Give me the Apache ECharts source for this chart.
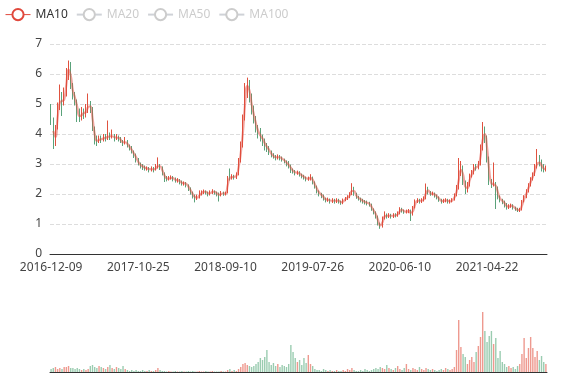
<!DOCTYPE html>
<html>
<head>
<meta charset="utf-8">
<script src="https://cdn.jsdelivr.net/npm/echarts@6/dist/echarts.min.js"></script>
<style>html,body{margin:0;padding:0;background:#fff}#chart{width:577px;height:380px}</style>
</head>
<body>
<div id="chart"></div>
<script>
// Tick labels shown on the date axis (one every 40 periods)
const tickDates = ['2016-12-09', '2017-10-25', '2018-09-10', '2019-07-26', '2020-06-10', '2021-04-22'];
const legendNames = ['MA10', 'MA20', 'MA50', 'MA100'];

// Weekly-ish candles: [open, close, lowest, highest]
const ohlc = [
  [4.80,4.60,4.30,5.00],[4.50,3.60,3.50,4.55],[3.65,4.20,3.60,4.30],[4.20,4.90,4.15,5.05],[4.90,5.20,4.80,5.65],
  [5.20,5.00,4.60,5.40],[5.00,5.30,4.95,5.55],[5.30,6.00,5.25,6.20],[6.05,6.30,5.80,6.45],[6.30,5.60,5.50,6.40],
  [5.60,5.30,5.15,5.70],[5.30,5.10,4.95,5.40],[5.10,4.70,4.40,5.15],[4.70,4.50,4.40,4.85],[4.50,4.75,4.45,4.90],
  [4.75,4.65,4.50,4.85],[4.65,4.80,4.55,5.00],[4.80,5.00,4.70,5.35],[5.00,4.85,4.70,5.10],[4.85,4.20,4.10,4.90],
  [4.20,3.80,3.65,4.25],[3.80,3.75,3.60,3.95],[3.75,3.85,3.70,3.95],[3.85,3.80,3.70,3.95],[3.80,3.90,3.75,4.00],
  [3.90,3.85,3.75,4.00],[3.85,3.95,3.80,4.45],[3.95,3.90,3.80,4.05],[3.90,3.95,3.85,4.15],[3.95,3.85,3.75,4.00],
  [3.85,3.90,3.80,4.00],[3.90,3.85,3.75,3.95],[3.85,3.75,3.70,3.90],[3.75,3.70,3.60,3.80],[3.70,3.75,3.65,3.90],
  [3.75,3.60,3.55,3.80],[3.60,3.55,3.45,3.65],[3.55,3.40,3.35,3.60],[3.40,3.30,3.20,3.45],[3.30,3.15,3.05,3.35],
  [3.15,3.00,2.95,3.20],[3.00,2.95,2.85,3.05],[2.95,2.90,2.80,3.00],[2.90,2.85,2.78,2.95],[2.83,2.86,2.78,2.92],
  [2.86,2.80,2.72,2.90],[2.80,2.85,2.75,2.92],[2.85,2.80,2.72,2.90],[2.80,2.90,2.78,3.00],[2.90,2.95,2.85,3.22],
  [2.95,2.90,2.80,3.00],[2.90,2.70,2.62,2.92],[2.70,2.55,2.40,2.72],[2.55,2.50,2.42,2.60],[2.50,2.52,2.45,2.60],
  [2.52,2.56,2.48,2.62],[2.56,2.50,2.42,2.60],[2.50,2.45,2.38,2.55],[2.45,2.47,2.38,2.53],[2.47,2.40,2.32,2.50],
  [2.40,2.35,2.28,2.45],[2.35,2.37,2.28,2.42],[2.37,2.30,2.22,2.40],[2.30,2.20,2.10,2.32],[2.20,2.05,1.98,2.22],
  [2.05,1.95,1.85,2.08],[1.95,1.85,1.72,1.98],[1.85,1.90,1.80,1.98],[1.90,2.00,1.85,2.12],[2.00,2.05,1.95,2.12],
  [2.05,2.10,2.00,2.15],[2.10,2.05,1.98,2.12],[2.05,2.00,1.92,2.08],[2.00,2.05,1.95,2.12],[2.05,2.10,2.00,2.16],
  [2.10,2.05,1.98,2.12],[2.05,2.00,1.92,2.08],[2.00,1.95,1.75,2.05],[1.95,2.05,1.92,2.10],[2.05,2.00,1.94,2.08],
  [2.00,2.02,1.95,2.08],[2.05,2.55,2.02,2.60],[2.55,2.52,2.45,2.85],[2.52,2.60,2.48,2.66],[2.60,2.55,2.48,2.64],
  [2.55,2.65,2.50,2.72],[2.65,3.10,2.62,3.20],[3.10,3.60,3.05,3.75],[3.60,4.50,3.55,4.65],[4.50,5.50,4.45,5.70],
  [5.50,5.70,5.20,5.88],[5.70,5.20,5.05,5.80],[5.20,4.80,4.65,5.35],[4.80,4.50,4.35,4.95],[4.50,4.20,4.05,4.60],
  [4.20,4.00,3.85,4.30],[4.00,3.90,3.75,4.20],[3.90,3.80,3.60,3.98],[3.80,3.60,3.45,3.85],[3.60,3.55,3.40,3.70],
  [3.55,3.40,3.30,3.60],[3.40,3.30,3.22,3.45],[3.30,3.25,3.18,3.36],[3.25,3.20,3.12,3.30],[3.20,3.25,3.15,3.32],
  [3.25,3.20,3.12,3.30],[3.20,3.15,3.08,3.25],[3.15,3.10,3.02,3.18],[3.10,3.00,2.92,3.12],[3.00,2.95,2.85,3.10],
  [2.95,2.80,2.70,2.98],[2.80,2.75,2.68,2.85],[2.75,2.70,2.62,2.80],[2.70,2.72,2.64,2.78],[2.72,2.65,2.58,2.76],
  [2.65,2.60,2.52,2.68],[2.60,2.55,2.48,2.64],[2.55,2.50,2.42,2.58],[2.50,2.52,2.44,2.58],[2.52,2.55,2.45,2.66],
  [2.55,2.40,2.32,2.58],[2.40,2.25,2.18,2.42],[2.25,2.10,2.02,2.28],[2.10,2.00,1.92,2.12],[2.00,1.95,1.86,2.04],
  [1.95,1.85,1.78,1.98],[1.85,1.80,1.72,1.88],[1.80,1.82,1.74,1.88],[1.82,1.75,1.68,1.85],[1.75,1.80,1.70,1.86],
  [1.80,1.75,1.68,1.84],[1.75,1.80,1.70,1.86],[1.80,1.75,1.68,1.84],[1.75,1.70,1.64,1.78],[1.70,1.80,1.66,1.85],
  [1.80,1.85,1.76,1.90],[1.85,1.90,1.80,1.96],[1.90,2.00,1.86,2.06],[2.00,2.20,1.96,2.36],[2.20,2.00,1.94,2.24],
  [2.00,1.90,1.84,2.04],[1.90,1.85,1.78,1.94],[1.85,1.80,1.72,1.88],[1.80,1.75,1.68,1.84],[1.75,1.72,1.65,1.80],
  [1.72,1.70,1.62,1.78],[1.70,1.65,1.58,1.74],[1.65,1.50,1.44,1.68],[1.50,1.40,1.32,1.52],[1.40,1.25,1.18,1.42],
  [1.25,1.00,0.95,1.28],[1.00,0.90,0.84,1.05],[0.90,1.20,0.88,1.25],[1.20,1.30,1.15,1.42],[1.30,1.25,1.18,1.35],
  [1.25,1.30,1.20,1.36],[1.30,1.25,1.18,1.34],[1.25,1.30,1.20,1.36],[1.30,1.28,1.22,1.36],[1.28,1.35,1.24,1.42],
  [1.35,1.50,1.32,1.56],[1.50,1.45,1.38,1.54],[1.45,1.40,1.34,1.48],[1.40,1.42,1.35,1.48],[1.42,1.45,1.36,1.50],
  [1.45,1.30,1.10,1.48],[1.30,1.55,1.28,1.60],[1.55,1.75,1.52,1.82],[1.75,1.80,1.70,1.86],[1.80,1.75,1.68,1.84],
  [1.75,1.80,1.70,1.86],[1.80,1.85,1.75,1.92],[1.85,2.20,1.82,2.35],[2.20,2.05,1.98,2.24],[2.05,2.00,1.94,2.10],
  [2.00,2.02,1.95,2.08],[2.02,1.95,1.88,2.05],[1.95,1.90,1.82,1.98],[1.90,1.80,1.74,1.92],[1.80,1.75,1.68,1.84],
  [1.75,1.78,1.70,1.84],[1.78,1.80,1.72,1.86],[1.80,1.75,1.68,1.84],[1.75,1.76,1.68,1.82],[1.76,1.80,1.72,1.86],
  [1.80,1.95,1.78,2.02],[1.95,2.20,1.92,2.30],[2.20,2.70,2.15,3.20],[2.70,2.90,2.60,3.10],[2.90,2.40,2.30,2.95],
  [2.40,2.10,2.00,2.45],[2.10,2.30,2.05,2.40],[2.30,2.60,2.25,2.68],[2.60,2.70,2.55,2.80],[2.70,2.90,2.65,3.00],
  [2.90,2.88,2.78,3.00],[2.88,3.00,2.82,3.10],[3.00,3.50,2.95,3.65],[3.50,4.10,3.45,4.40],[4.10,3.90,3.70,4.25],
  [3.90,3.20,3.05,3.95],[3.20,2.40,2.30,3.25],[2.40,2.30,2.20,2.50],[2.30,2.35,2.25,3.05],[2.35,2.20,1.50,2.40],
  [2.20,1.90,1.82,2.25],[1.90,1.80,1.72,1.95],[1.80,1.75,1.66,1.84],[1.75,1.65,1.55,1.78],[1.65,1.55,1.48,1.70],
  [1.55,1.60,1.50,1.66],[1.60,1.62,1.54,1.68],[1.62,1.55,1.48,1.66],[1.55,1.50,1.44,1.58],[1.50,1.45,1.40,1.54],
  [1.45,1.48,1.40,1.54],[1.48,1.75,1.45,1.80],[1.75,1.90,1.72,1.96],[1.90,2.10,1.86,2.16],[2.10,2.30,2.05,2.36],
  [2.30,2.50,2.25,2.56],[2.50,2.65,2.45,2.72],[2.65,2.90,2.60,3.00],[2.90,3.10,2.85,3.50],[3.10,3.00,2.92,3.30],
  [3.00,2.90,2.75,3.15],[2.90,2.80,2.72,3.00],[2.80,2.85,2.75,2.95]
];

// Traded volume per period
const volumes = [
  3,4,5,3,4, 3,5,5,6,4,
  4,3,4,3,2,3,2,3, 6,7,5,
  4,6,5,4,3,5,7,4, 3,5,4,3,6,3,
  2,1,2,1,2,1,1,2,1,1,2,1,1,2,4,2,
  1,1,0.5,1,0.5,0.5,1,0.5,0.5,1,0.5,0.5,1,0.5,1,0.5,0.5,1,0.5,0.5,1,0.5,0.5,1,0.5,0.5,0.5,1,0.5,0.5,
  2,3,1,2,1,3,
  5,8,9,7,6,5,6,
  8,10,14,12,15,22,
  10,7,9,6,8,5,7,6,5,
  8,27,20,14,10,
  12,7,14,9,17,8,6,
  3,2,2,1,3,2,1,2,1,1,2,1,1,
  2,1,3,2,4,2,1,1,2,1,3,2,1,2,3,4,3,5,4,3,7,4,3,2,4,6,
  3,2,4,8,3,2,4,3,2,5,3,2,4,3,2,3,2,1,2,3,2,4,3,2,3,5,
  22,52,25,18,15,
  8,12,15,10,20,
  26,35,60,41,30,36,41,28,34,
  14,21,10,8,5,6,4,5,3,6,8,
  18,34,14,24,35,24,15,21,12,16,10,8
];

// ---- build category list from tick dates (40 periods between labelled dates) ----
const STEP = 40;
function parseD(s) { const p = s.split('-').map(Number); return Date.UTC(p[0], p[1] - 1, p[2]); }
function fmtD(t) { const d = new Date(t); const m = d.getUTCMonth() + 1, dd = d.getUTCDate();
  return d.getUTCFullYear() + '-' + (m < 10 ? '0' : '') + m + '-' + (dd < 10 ? '0' : '') + dd; }
const DAY = 86400000;
const categories = ohlc.map(function (_, i) {
  const s = Math.floor(i / STEP), j = i % STEP;
  const a = parseD(tickDates[Math.min(s, tickDates.length - 1)]);
  if (s < tickDates.length - 1) {
    const b = parseD(tickDates[s + 1]);
    return fmtD(a + Math.round(j * (b - a) / STEP / DAY) * DAY);
  }
  return fmtD(a + (i - (tickDates.length - 1) * STEP) * 8 * DAY);
});

// each period ~5 trading days, so MA10 ~ 2 periods etc.
const maWindows = { MA10: 2, MA20: 4, MA50: 10, MA100: 20 };
function calcMA(n) {
  return ohlc.map(function (_, i) {
    if (i < n - 1) return '-';
    let s = 0; for (let k = 0; k < n; k++) s += ohlc[i - k][1];
    return +(s / n).toFixed(3);
  });
}

const upColor = '#e0523f', downColor = '#5aa27a';
const volData = volumes.map(function (v, i) {
  const up = ohlc[i][1] >= ohlc[i][0];
  return { value: v, itemStyle: { color: up ? '#e8776a' : '#78bb95', opacity: 0.75 } };
});

const chart = echarts.init(document.getElementById('chart'), null, { renderer: 'canvas' });
const maColors = ['#e0483c', '#999', '#999', '#999'];
chart.setOption({
  animation: false,
  textStyle: { fontFamily: 'Noto Sans, sans-serif' },
  legend: {
    left: 0, top: 3, data: legendNames,
    selected: { MA10: true, MA20: false, MA50: false, MA100: false },
    textStyle: { color: '#333', fontSize: 12 },
    lineStyle: { width: 1, opacity: 1 },
    itemStyle: { borderWidth: 1 },
    inactiveColor: '#ccc',
    inactiveBorderWidth: 1
  },
  grid: [
    { left: 50, right: 30, top: 44, height: 210 },
    { left: 50, right: 30, top: 292, height: 80 }
  ],
  xAxis: [
    { type: 'category', data: categories, gridIndex: 0, boundaryGap: true,
      axisLine: { lineStyle: { color: '#333' } },
      axisTick: { interval: STEP - 1, lineStyle: { color: '#333' } },
      axisLabel: { interval: STEP - 1, color: '#444', fontSize: 12 },
      splitLine: { show: false } },
    { type: 'category', data: categories, gridIndex: 1, boundaryGap: true,
      axisLine: { lineStyle: { color: '#333' } },
      axisTick: { show: false }, axisLabel: { show: false }, splitLine: { show: false } }
  ],
  yAxis: [
    { type: 'value', gridIndex: 0, min: 0, max: 7, interval: 1,
      axisLine: { show: false }, axisTick: { show: false },
      axisLabel: { color: '#444', fontSize: 12 },
      splitLine: { lineStyle: { type: 'dashed', color: '#ddd' } } },
    { type: 'value', gridIndex: 1, min: 0, max: 80,
      axisLine: { show: false }, axisTick: { show: false }, axisLabel: { show: false },
      splitLine: { show: false } }
  ],
  series: [
    { name: 'K', type: 'candlestick', data: ohlc, xAxisIndex: 0, yAxisIndex: 0,
      barWidth: 1.2,
      itemStyle: { color: upColor, color0: downColor, borderColor: upColor, borderColor0: downColor, borderWidth: 1 } }
  ].concat(legendNames.map(function (n, k) {
    return { name: n, type: 'line', data: calcMA(maWindows[n]), smooth: true, showSymbol: false,
      xAxisIndex: 0, yAxisIndex: 0, color: maColors[k],
      itemStyle: { borderWidth: 1 },
      lineStyle: { width: 2.2, opacity: 0.5 } };
  })).concat([
    { name: 'Volume', type: 'bar', data: volData, xAxisIndex: 1, yAxisIndex: 1, barWidth: 1.4 }
  ])
});
</script>
</body>
</html>
